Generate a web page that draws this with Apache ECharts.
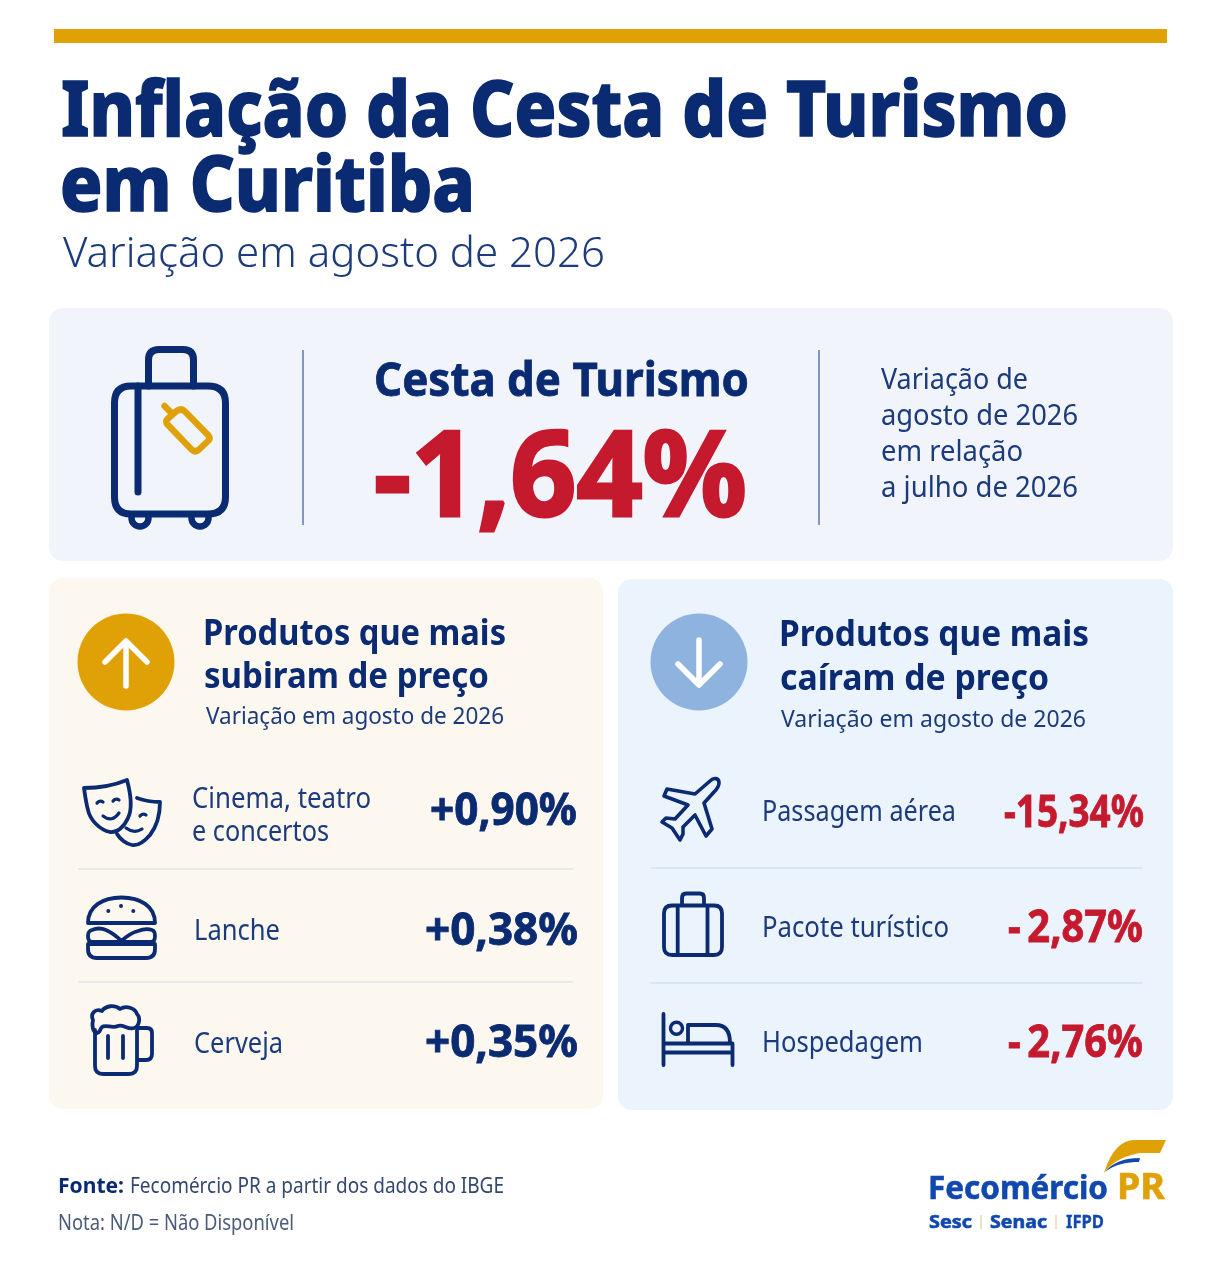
<!DOCTYPE html>
<html>
<head>
<meta charset="utf-8">
<style>
  html, body { margin: 0; padding: 0; background: #fff; }
  #chart { width: 1222px; height: 1287px; }
</style>
<script src="https://cdn.jsdelivr.net/npm/echarts@6/dist/echarts.min.js"></script>
</head>
<body>
<div id="chart"></div>
<script>
// data
const titleLines = ['Inflação da Cesta de Turismo', 'em Curitiba'];
const subtitle = 'Variação em agosto de 2026';
const basketName = 'Cesta de Turismo';
const basketValue = -1.64;
const basketNote = ['Variação de', 'agosto de 2026', 'em relação', 'a julho de 2026'];
const upTitle = ['Produtos que mais', 'subiram de preço'];
const downTitle = ['Produtos que mais', 'caíram de preço'];
const upLabels = [['Cinema, teatro', 'e concertos'], ['Lanche'], ['Cerveja']];
const upValues = [0.90, 0.38, 0.35];
const downLabels = [['Passagem aérea'], ['Pacote turístico'], ['Hospedagem']];
const downValues = [-15.34, -2.87, -2.76];

const NAVY = '#0A2A72';
const TEXT = '#1C3B7C';
const RED = '#C5192D';
const GOLD = '#E0A106';
const FONT = '"Noto Sans", sans-serif';

const measure = document.createElement('canvas').getContext('2d');

// left aligned text on a baseline, squeezed to the width it has in the picture
function txt(str, x0, x1, y, size, weight, fill, bold) {
  const font = weight + ' ' + size + 'px ' + FONT;
  measure.font = font;
  measure.textBaseline = 'middle';
  const m = measure.measureText(str);
  const style = { text: str, x: 0, y: 0, font: font, fill: fill, align: 'left', verticalAlign: 'middle' };
  if (bold) {
    style.stroke = fill;
    style.lineWidth = bold;
  }
  return {
    type: 'text', x: x0, y: y - Math.abs(m.alphabeticBaseline), scaleX: (x1 - x0) / m.width, silent: true,
    style: style
  };
}
function panel(x, y, w, h, fill) {
  return { type: 'rect', silent: true, shape: { x, y, width: w, height: h, r: 14 }, style: { fill } };
}
function hline(x0, x1, y, stroke, width) {
  return { type: 'line', silent: true, shape: { x1: x0, y1: y, x2: x1, y2: y }, style: { stroke, lineWidth: width } };
}
function vline(x, y0, y1, stroke) {
  return { type: 'line', silent: true, shape: { x1: x, y1: y0, x2: x, y2: y1 }, style: { stroke: stroke || '#5D76AF', lineWidth: 1.5 } };
}
function pct(v) {
  const s = Math.abs(v).toFixed(2).replace('.', ',') + '%';
  return (v < 0 ? '-' : '+') + s;
}

const elements = [
  { type: 'rect', silent: true, shape: { x: 54, y: 29, width: 1113, height: 14 }, style: { fill: GOLD } },
  txt(titleLines[0], 61, 1068, 136, 77, 800, NAVY, 1.6),
  txt(titleLines[1], 60, 475, 211, 77, 800, NAVY, 1.6),
  txt(subtitle, 63, 605, 267, 42, 300, TEXT),

  panel(49, 308, 1124, 253, '#F1F5FB'),
  vline(303, 350, 525),
  vline(819, 350, 525),
  txt(basketName, 374, 749, 396, 47, 700, NAVY, 0.8),
  txt(pct(basketValue), 374, 747, 516, 118, 700, RED, 3),

  panel(49, 578, 554, 531, '#FDF8EF'),
  panel(618, 579, 555, 531, '#EBF3FC'),
  { type: 'circle', silent: true, shape: { cx: 126, cy: 662, r: 48.5 }, style: { fill: GOLD } },
  { type: 'circle', silent: true, shape: { cx: 699, cy: 662, r: 48.5 }, style: { fill: '#8FB3DF' } },

  txt(upTitle[0], 203, 506, 645, 36, 700, NAVY),
  txt(upTitle[1], 204, 489, 688, 36, 700, NAVY),
  txt(subtitle, 206, 504, 724, 24, 400, TEXT),
  txt(downTitle[0], 779, 1089, 646, 36, 700, NAVY),
  txt(downTitle[1], 780, 1049, 690, 36, 700, NAVY),
  txt(subtitle, 781, 1086, 727, 24, 400, TEXT),

  hline(78, 573, 869, '#DFE5EC', 1.5),
  hline(78, 573, 982, '#DFE5EC', 1.5),
  hline(651, 1142, 868, '#D5E1F0', 1.5),
  hline(651, 1142, 983, '#D5E1F0', 1.5),

  txt('Fonte:', 58, 124, 1193, 22, 700, NAVY),
  txt('Fecomércio PR a partir dos dados do IBGE', 130, 504, 1193, 22, 400, '#33476F'),
  txt('Nota: N/D = Não Disponível', 58, 294, 1230, 21, 400, '#4B5B7A'),

  txt('Fecomércio', 928, 1108, 1199, 33, 700, '#1148B0', 0.6),
  txt('PR', 1117, 1165, 1199, 35, 700, GOLD, 0.6),
  txt('Sesc', 929, 972, 1228, 18, 700, '#1148B0', 0.6),
  txt('Senac', 990, 1047, 1228, 18, 700, '#1148B0', 0.6),
  txt('IFPD', 1066, 1104, 1228, 17, 700, '#1148B0', 0.3),
  vline(981, 1215, 1229, '#E8D9B0'),
  vline(1056, 1215, 1229, '#E8D9B0')
];

const noteRows = [389, 425, 461, 497];
const noteEnds = [1028, 1078, 1023, 1078];
basketNote.forEach((line, i) => elements.push(txt(line, 881, noteEnds[i], noteRows[i], 29, 400, TEXT)));

// product rows, left card then right card
const upLabelEnds = [[371, 329], [280], [283]];
const upLabelRows = [[808, 841], [940], [1053]];
const upValueBox = [[430, 577, 825], [425, 578, 945], [425, 578, 1057]];
upLabels.forEach((lines, i) => {
  lines.forEach((line, j) => {
    elements.push(txt(line, i === 0 ? 192 : 194, upLabelEnds[i][j], upLabelRows[i][j], 29, 400, TEXT));
  });
  const b = upValueBox[i];
  elements.push(txt(pct(upValues[i]), b[0], b[1], b[2], 44, 700, NAVY, 0.8));
});
const downLabelEnds = [956, 949, 923];
const downLabelRows = [821, 937, 1052];
const downValueBox = [[1004, 1144, 827], [1008, 1143, 942], [1008, 1143, 1057]];
downLabels.forEach((lines, i) => {
  elements.push(txt(lines[0], 762, downLabelEnds[i], downLabelRows[i], 29, 400, TEXT));
  const b = downValueBox[i];
  // the two short values keep a gap after the minus sign
  const shown = i > 0 ? pct(downValues[i]).replace('-', '-\u2009') : pct(downValues[i]);
  elements.push(txt(shown, b[0], b[1], b[2], 44, 700, RED, 0.8));
});

// icons: stroke outlines, width, colour
const icons = [
  // suitcase
  ['M131,386 H208 Q225.5,386 225.5,403 V497 Q225.5,514 208,514 H131 Q114.5,514 114.5,497 V403 Q114.5,386 131,386 Z', 7, NAVY],
  ['M148.5,386 V360 Q148.5,349.5 159,349.5 H183 Q193.5,349.5 193.5,360 V386', 7, NAVY],
  ['M138,386 V492', 7, NAVY],
  ['M131.5,518 A8.5,8.5 0 0 0 148.5,518 M191.5,518 A8.5,8.5 0 0 0 208.5,518', 6.5, NAVY],
  ['M176,411.5 Q181,407.5 185,411.5 L208,435 Q211,438 208,441 L199,449.5 Q195,453 191.5,449.5 L168,425 Q164.5,421.5 168,418.5 Z M164.5,406 L171.5,413', 6.5, GOLD],
  // up and down arrows
  ['M126,686 V643 M105,662 L126,641 L147,662', 5.5, '#fff'],
  ['M699,640 V684 M678,664 L699,685 L720,664', 5.5, '#fff'],
  // masks
  ['M84,788 C98,788 115,785 127,780 C131,795 133,808 128,818 C124,827 117,833 110,832 C100,830 90,820 88,810 C86,803 85,795 84,788 Z', 3.8, NAVY],
  ['M97,803 Q100,800 103,802 M113,801 Q116,798 119,800 M103,816 Q112,823 119,813', 3.2, NAVY],
  ['M137,798 Q148,802 160,802 C160,815 157,826 150,835 C143,843 137,846 132,845 C126,844 120,839 117,834', 3.8, NAVY],
  ['M140,816 Q143,813 146,815 M126,828 Q134,834 142,829', 3.2, NAVY],
  // burger
  ['M88,923 C88,906 103,897.5 121.5,897.5 C140,897.5 155,906 155,923 Z', 3.8, NAVY],
  ['M92,930 Q99,927 106,930 Q113,933 121.5,941 Q130,933 138,931 Q146,928 152,930 Q155,931 155,936 Q155,942 151,942 H92 Q88,942 88,936 Q88,931 92,930 Z', 3.8, NAVY],
  ['M88,944 H155 V949 Q155,958 146,958 H97 Q88,958 88,949 Z', 3.8, NAVY],
  // burger seeds
  ['M108.3,911 L108.3,911.1 M121,906 L121,906.1 M133.3,911 L133.3,911.1', 4, NAVY],
  // beer
  ['M95,1030 V1066 Q95,1074 103,1074 H129 Q137,1074 137,1066 V1030', 3.8, NAVY],
  ['M138,1028 H147 Q152,1028 152,1033 V1054 Q152,1060 146,1060 H138', 3.8, NAVY],
  ['M108,1036 V1058 M123,1036 V1058', 3.8, NAVY],
  ['M97,1033 C92,1032 92,1024 93,1020 C90,1014 95,1008 102,1011 C106,1005 115,1005 120,1009 C126,1005 135,1008 137,1014 C141,1018 139,1027 134,1028 C128,1030 123,1024 118,1026 C112,1029 106,1024 102,1027 C100,1029 100,1033 97,1033 Z', 3.8, NAVY],
  // plane
  ['M710,781 C714,777 719,778 719,783 C719,786 717,789 714,792 L704,803 L712,829 L706,836 L695,815 L683,827 L683,834 L680,840 L672,828 L662,822 L666,818 L675,819 L688,805 L664,796 L667,789 L695,794 Z', 3.6, NAVY],
  // bag
  ['M672,905.5 H714 Q722,905.5 722,913.5 V947 Q722,955 714,955 H672 Q664,955 664,947 V913.5 Q664,905.5 672,905.5 Z', 3.8, NAVY],
  ['M682,905 V898 Q682,893.5 686,893.5 H700 Q704,893.5 704,898 V905 M677.7,906 V955 M707.5,906 V955', 3.8, NAVY],
  // bed
  ['M663.5,1014 V1065 M663.5,1043.5 H732.5 V1065 M663.5,1052.5 H732.5', 3.8, NAVY],
  ['M670.5,1028.3 A6,6 0 1 0 682.5,1028.3 A6,6 0 1 0 670.5,1028.3 Z', 3.4, NAVY],
  ['M688,1043 V1025 H716 Q730,1025 730,1043', 3.8, NAVY]
];
// logo wing is filled
const wings = [
  ['M1104,1173 C1110,1155 1118,1141 1134,1140 L1166,1140 L1160,1153 L1140,1153 C1128,1155 1113,1160 1104,1173 Z', GOLD],
  ['M1105,1172 C1113,1162 1125,1158 1140,1158 L1139,1162 C1128,1162 1115,1164 1105,1172 Z', '#1148B0']
];

const chart = echarts.init(document.getElementById('chart'));
chart.setOption({
  animation: false,
  backgroundColor: '#fff',
  graphic: { elements: elements },
  series: [{
    type: 'custom',
    coordinateSystem: 'none',
    silent: true,
    data: [0],
    renderItem: () => ({
      type: 'group',
      children: icons.map(ic => ({
        type: 'path',
        shape: { pathData: ic[0] },
        style: { fill: 'none', stroke: ic[2], lineWidth: ic[1], lineCap: 'round', lineJoin: 'round' }
      })).concat(wings.map(w => ({
        type: 'path',
        shape: { pathData: w[0] },
        style: { fill: w[1], stroke: 'none' }
      })))
    })
  }]
});
</script>
</body>
</html>
